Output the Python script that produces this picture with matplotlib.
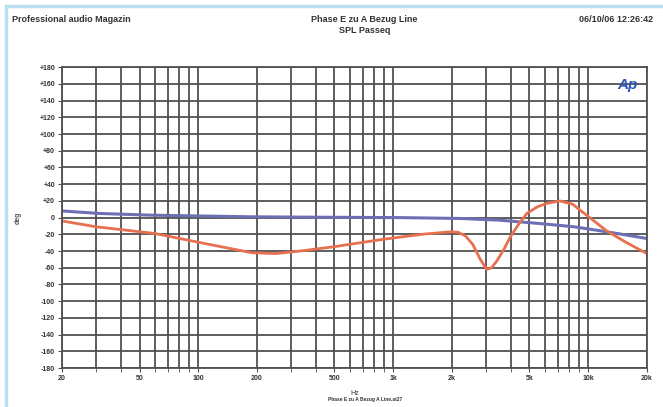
import matplotlib
matplotlib.use('Agg')
import matplotlib.pyplot as plt
from matplotlib.patches import Rectangle
from matplotlib.ticker import FixedLocator, NullFormatter

plt.rcParams['font.family'] = ['Liberation Sans', 'DejaVu Sans']

# phase of the blue trace (deg) against frequency (Hz)
blueFreq = [20, 31, 56, 100, 184, 400, 1100, 2200, 3500, 5600, 8500, 11000, 15000, 20000]
bluePhase = [8, 5, 3, 2, 1, 0.5, 0, -1, -3, -7, -11, -15, -20, -25]

# phase of the red trace (deg) against frequency (Hz)
redFreq = [20, 30, 60, 108, 188, 250, 333, 491, 886, 1400, 1954, 2150, 2350, 2560, 2800,
           3020, 3200, 3400, 3700, 3970, 4400, 4850, 5500, 6140, 7160, 8355, 9200,
           10200, 12470, 15780, 20000]
redPhase = [-4, -11, -19, -31, -42, -43, -40, -35, -26, -20, -17, -17.5, -22, -32, -50,
            -62, -60, -52, -38, -24, -8, 5, 13, 17, 20, 16, 8,
            0, -16, -30, -43]

xTicks = [20, 50, 100, 200, 500, 1000, 2000, 5000, 10000, 20000]
xTickLabels = ['20', '50', '100', '200', '500', '1k', '2k', '5k', '10k', '20k']
yTicks = list(range(-180, 181, 20))
yTickLabels = ['+%d' % v if v > 0 else '%d' % v for v in yTicks]

fig = plt.figure(figsize=(6.63, 4.07), dpi=100)
fig.patch.set_facecolor('white')

# light blue frame round the page
fig.add_artist(Rectangle((0.009, -0.05), 1.05, 1.036, transform=fig.transFigure,
                         fill=False, edgecolor='#b9dff2', linewidth=2.5))

ax = fig.add_axes([0.0935, 0.0958, 0.882, 0.739])
ax.set_xscale('log')
ax.set_xlim(20, 20000)
ax.set_ylim(-180, 180)

ax.plot(blueFreq, bluePhase, color='#6d6fb3', linewidth=2.2, solid_capstyle='round')
ax.plot(redFreq, redPhase, color='#e6704f', linewidth=2.0, solid_capstyle='round',
        solid_joinstyle='round')

ax.set_xticks(xTicks)
ax.set_xticklabels(xTickLabels)
ax.xaxis.set_minor_locator(FixedLocator(
    [30, 40, 60, 70, 80, 90, 300, 400, 600, 700, 800, 900,
     3000, 4000, 6000, 7000, 8000, 9000]))
ax.xaxis.set_minor_formatter(NullFormatter())
ax.set_yticks(yTicks)
ax.set_yticklabels(yTickLabels)

ax.grid(True, which='both', color='#505050', linewidth=1.3)
ax.set_axisbelow(True)
for s in ax.spines.values():
    s.set_color('#505050')
    s.set_linewidth(1.3)
ax.tick_params(axis='both', which='both', length=3, color='#505050',
               labelsize=5, labelcolor='#333333', pad=2)
for lbl in ax.get_xticklabels() + ax.get_yticklabels():
    lbl.set_fontweight('bold')

ax.set_xlabel('Hz', fontsize=5, color='#333333', labelpad=6)
fig.text(0.028, 0.465, 'deg', rotation=90, fontsize=5, color='#555555',
         fontweight='bold', ha='center', va='center')

# header
fig.text(0.018, 0.952, 'Professional audio Magazin', fontsize=6.5, color='#333333',
         fontweight='bold', va='center')
fig.text(0.55, 0.952, 'Phase E zu A Bezug Line', fontsize=6.5, color='#333333',
         fontweight='bold', ha='center', va='center')
fig.text(0.55, 0.925, 'SPL Passeq', fontsize=6.5, color='#333333',
         fontweight='bold', ha='center', va='center')
fig.text(0.985, 0.952, '06/10/06 12:26:42', fontsize=6.5, color='#333333',
         fontweight='bold', ha='right', va='center')
fig.text(0.55, 0.018, 'Phase E zu A Bezug A Line.at27', fontsize=3.5, color='#333333',
         fontweight='bold', ha='center', va='center')

# Ap logo
ax.text(0.985, 0.965, 'Ap', transform=ax.transAxes, fontsize=11, color='#2f55b8',
        fontweight='bold', fontstyle='italic', ha='right', va='top')

fig.savefig('out.png', dpi=100, facecolor=fig.get_facecolor())
